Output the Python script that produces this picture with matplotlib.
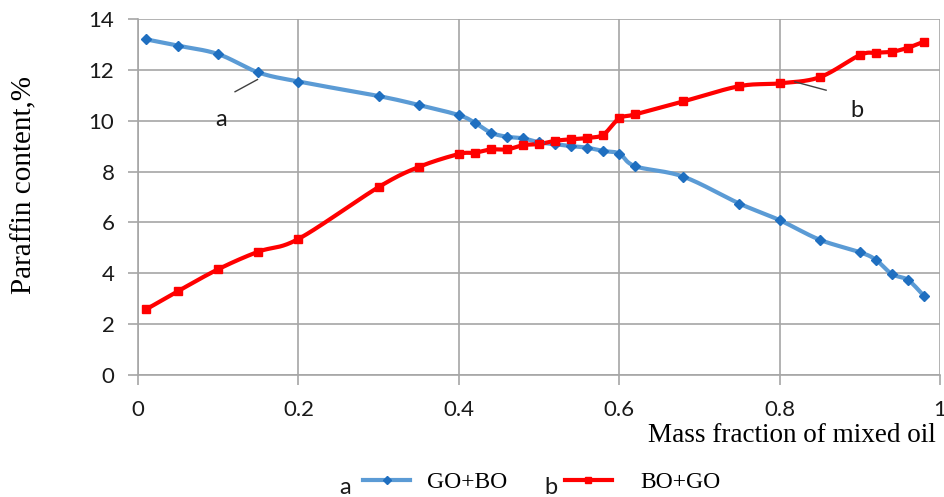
import numpy as np
import matplotlib
matplotlib.use("Agg")
import matplotlib.pyplot as plt
from matplotlib.lines import Line2D

# Mass fraction of the mixed oil
mass_fraction = [0.01, 0.05, 0.10, 0.15, 0.20, 0.30, 0.35, 0.40, 0.42, 0.44,
                 0.46, 0.48, 0.50, 0.52, 0.54, 0.56, 0.58, 0.60, 0.62, 0.68,
                 0.75, 0.80, 0.85, 0.90, 0.92, 0.94, 0.96, 0.98]

# Paraffin content (%) for each blending order
go_bo = [13.20, 12.95, 12.62, 11.90, 11.54, 10.97, 10.62, 10.22, 9.92, 9.53,
         9.37, 9.31, 9.15, 9.08, 9.00, 8.94, 8.81, 8.71, 8.21, 7.80,
         6.74, 6.09, 5.32, 4.83, 4.53, 3.97, 3.74, 3.11]
bo_go = [2.58, 3.30, 4.16, 4.85, 5.35, 7.39, 8.18, 8.69, 8.74, 8.87,
         8.87, 9.04, 9.08, 9.21, 9.27, 9.32, 9.45, 10.09, 10.25, 10.76,
         11.36, 11.47, 11.71, 12.58, 12.67, 12.71, 12.87, 13.11]

series_names = ["GO+BO", "BO+GO"]
series_tags = ["a", "b"]
x_ticks = [0, 0.2, 0.4, 0.6, 0.8, 1]
x_tick_labels = ["0", "0.2", "0.4", "0.6", "0.8", "1"]
y_ticks = [0, 2, 4, 6, 8, 10, 12, 14]

BLUE_LINE = "#5b9bd5"
BLUE_MARK = "#1f6fc0"
RED = "#ff0000"
GRID = "#a6a6a6"
SANS = "Lato"
SERIF = "Liberation Serif"


def smooth_curve(x, y, n=24):
    """Bezier smoothing through the points (spreadsheet style)."""
    p = np.column_stack([x, y]).astype(float)
    m = len(p)
    t = np.linspace(0, 1, n)[:, None]
    segs = []
    for i in range(m - 1):
        p0 = p[max(i - 1, 0)]
        p1 = p[i]
        p2 = p[i + 1]
        p3 = p[min(i + 2, m - 1)]
        c1 = p1 + (p2 - p0) / 6.0
        c2 = p2 - (p3 - p1) / 6.0
        b = ((1 - t) ** 3) * p1 + 3 * ((1 - t) ** 2) * t * c1 \
            + 3 * (1 - t) * t ** 2 * c2 + t ** 3 * p2
        segs.append(b if i == 0 else b[1:])
    c = np.vstack(segs)
    return c[:, 0], c[:, 1]


W, H = 945, 497
fig = plt.figure(figsize=(W / 100, H / 100), dpi=100)
ax = fig.add_axes([138 / W, 1 - 375 / H, (940 - 138) / W, (375 - 19) / H])

# curves
sx, sy = smooth_curve(mass_fraction, go_bo)
ax.plot(sx, sy, color=BLUE_LINE, lw=3.0, solid_capstyle="round", zorder=3)
ax.plot(mass_fraction, go_bo, ls="none", marker="D", ms=5.0,
        color=BLUE_MARK, mec=BLUE_MARK, zorder=4)

sx, sy = smooth_curve(mass_fraction, bo_go)
ax.plot(sx, sy, color=RED, lw=3.0, solid_capstyle="round", zorder=3)
ax.plot(mass_fraction, bo_go, ls="none", marker="s", ms=5.5,
        color=RED, mec=RED, zorder=4)

ax.set_xlim(0, 1)
ax.set_ylim(0, 14)
ax.set_xticks(x_ticks)
ax.set_xticklabels(x_tick_labels)
ax.set_yticks(y_ticks)
ax.grid(True, color=GRID, lw=1.2)
ax.set_axisbelow(True)
for side in ("top", "right"):
    ax.spines[side].set_visible(False)
for side in ("left", "bottom"):
    ax.spines[side].set_color(GRID)
    ax.spines[side].set_linewidth(1.2)
ax.tick_params(axis="both", direction="out", length=7, width=1.2,
               color=GRID, labelsize=16, labelcolor="#1a1a1a")
ax.tick_params(axis="y", pad=10)
ax.tick_params(axis="x", pad=11)
for lab in ax.get_xticklabels() + ax.get_yticklabels():
    lab.set_family(SANS)

# series tags with leader lines
ax.plot([0.121, 0.149], [11.14, 11.62], color="#404040", lw=1.0, zorder=5)
ax.text(0.103, 10.05, series_tags[0], fontsize=17, family=SANS,
        ha="center", va="center", color="#1a1a1a")
ax.plot([0.819, 0.858], [11.53, 11.20], color="#404040", lw=1.0, zorder=5)
ax.text(0.897, 10.42, series_tags[1], fontsize=17, family=SANS,
        ha="center", va="center", color="#1a1a1a")

# axis titles
fig.text(24 / W, 1 - 185 / H, "Paraffin content,%", rotation=90,
         fontsize=21, family=SERIF, ha="center", va="center")
fig.text(936 / W, 1 - 436 / H, "Mass fraction of mixed oil",
         fontsize=19.5, family=SERIF, ha="right", va="center")

# legend row
legend_items = [
    (series_tags[0], series_names[0], BLUE_LINE, BLUE_MARK, "D", 5.0, 345, 363, 410, 427),
    (series_tags[1], series_names[1], RED, RED, "s", 5.5, 551, 565, 612, 640),
]
for tag, name, lc, mc, mk, ms, tx, x0, x1, nx in legend_items:
    yl = 1 - 480 / H
    fig.add_artist(Line2D([x0 / W, x1 / W], [yl, yl], color=lc, lw=3.0,
                          transform=fig.transFigure))
    fig.add_artist(Line2D([(x0 + x1) / 2 / W], [yl], color=mc, marker=mk,
                          ms=ms * 0.8, ls="none", transform=fig.transFigure))
    fig.text(tx / W, 1 - 487 / H, tag, fontsize=17, family=SANS,
             ha="center", va="center", color="#1a1a1a")
    fig.text(nx / W, 1 - 483 / H, name, fontsize=17, family=SERIF,
             ha="left", va="center")

fig.savefig("out.png", dpi=100)
